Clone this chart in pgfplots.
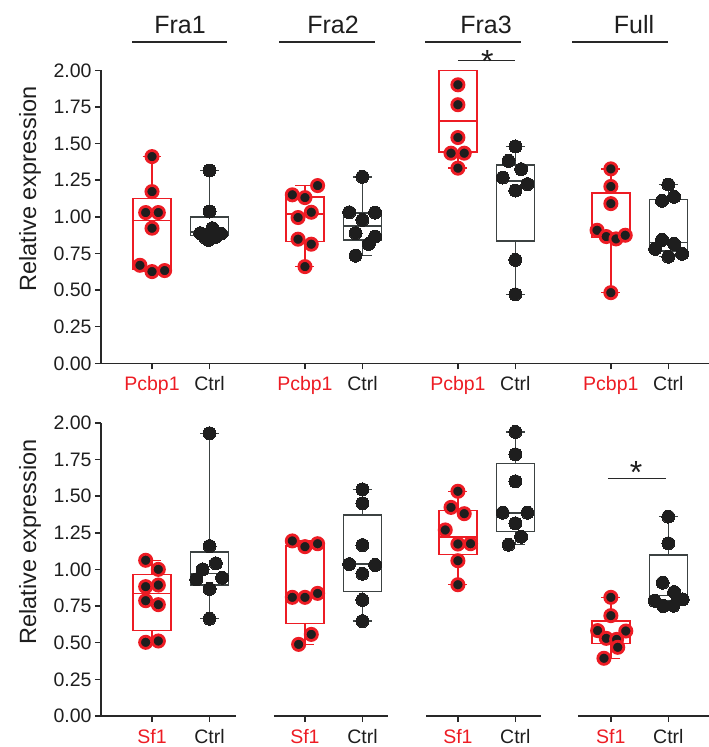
\documentclass[border=0pt]{standalone}
\usepackage{fontspec}
\setmainfont{Liberation Sans}
\usepackage{pgfplots}
\pgfplotsset{compat=1.18}
\definecolor{myred}{RGB}{237,28,36}
\definecolor{dotblack}{RGB}{30,30,30}
\definecolor{boxgray}{RGB}{60,66,66}
\definecolor{axgray}{RGB}{40,40,40}

\pgfplotsset{
  panel/.style={
    scale only axis, width=608pt, height=293pt,
    xmin=-0.887, xmax=9.687, ymin=0, ymax=2,
    axis lines*=left, clip=false,
    axis line style={line width=1.5pt, draw=axgray, -},
    xtick={0,1,2.66,3.66,5.32,6.32,7.98,8.98},
    ytick={0,0.25,0.5,0.75,1,1.25,1.5,1.75,2},
    tick style={line width=1.5pt, draw=axgray},
    major tick length=6pt, tick align=outside,
    xtick pos=bottom, ytick pos=left,
    yticklabel style={/pgf/number format/fixed, /pgf/number format/fixed zerofill, /pgf/number format/precision=2, /pgf/number format/assume math mode=true},
    ticklabel style={font=\fontsize{19.5}{20}\selectfont, text=dotblack},
    xticklabel style={yshift=-4pt},
  },
  redbox/.style={color=myred, line width=1.5pt, solid, mark=none},
  graybox/.style={color=boxgray, line width=1.5pt, solid, mark=none},
  reddots/.style={only marks, mark=*, mark size=6.1pt, mark options={fill=dotblack, draw=myred, line width=2.8pt}},
  blackdots/.style={only marks, mark=*, mark size=6.5pt, mark options={fill=dotblack, draw=dotblack, line width=0pt}},
}
% #1 style, #2 position, #3 lower whisker, #4 lower quartile, #5 median, #6 upper quartile, #7 upper whisker
\newcommand{\bx}[7]{%
  \pgfmathsetmacro{\bxl}{#2-0.33}\pgfmathsetmacro{\bxr}{#2+0.33}%
  \pgfmathsetmacro{\bcl}{#2-0.165}\pgfmathsetmacro{\bcr}{#2+0.165}%
  \edef\bxtmp{%
    \noexpand\addplot[#1, line join=miter] coordinates {(\bxl,#4) (\bxr,#4) (\bxr,#6) (\bxl,#6)} -- cycle;
    \noexpand\addplot[#1] coordinates {(\bxl,#5) (\bxr,#5)};
    \noexpand\addplot[#1] coordinates {(#2,#6) (#2,#7)};
    \noexpand\addplot[#1] coordinates {(#2,#4) (#2,#3)};
    \noexpand\addplot[#1] coordinates {(\bcl,#7) (\bcr,#7)};
    \noexpand\addplot[#1] coordinates {(\bcl,#3) (\bcr,#3)};
  }%
  \bxtmp}

\begin{document}
\begin{tikzpicture}
\useasboundingbox (0,0) rectangle (709pt,747pt);

% ---------------- top panel ----------------
\begin{axis}[panel, at={(101pt,383.7pt)}, anchor=south west,
  xticklabels={\textcolor{myred}{Pcbp1},Ctrl,\textcolor{myred}{Pcbp1},Ctrl,\textcolor{myred}{Pcbp1},Ctrl,\textcolor{myred}{Pcbp1},Ctrl}]
\bx{redbox}{0}{0.626}{0.64}{0.974}{1.125}{1.411}
\bx{graybox}{1}{0.842}{0.872}{0.895}{0.997}{1.316}
\bx{redbox}{2.66}{0.660}{0.831}{1.018}{1.136}{1.213}
\bx{graybox}{3.66}{0.735}{0.840}{0.936}{1.025}{1.273}
\bx{redbox}{5.32}{1.332}{1.441}{1.653}{2.0}{2.0}
\bx{graybox}{6.32}{0.471}{0.835}{1.245}{1.355}{1.480}
\bx{redbox}{7.98}{0.482}{0.86}{0.89}{1.161}{1.327}
\bx{graybox}{8.98}{0.728}{0.765}{0.826}{1.118}{1.220}

\addplot[reddots] coordinates {(0,1.411) (0,1.172) (-0.11,1.029) (0.11,1.029) (0,0.922) (-0.21,0.669) (0,0.626) (0.22,0.633)};
\addplot[blackdots] coordinates {(1,1.316) (1,1.036) (1.05,0.922) (0.84,0.888) (1.2,0.885) (0.92,0.86) (1.1,0.862) (0.98,0.842)};
\addplot[reddots] coordinates {(2.88,1.213) (2.44,1.150) (2.66,1.131) (2.54,0.995) (2.77,1.031) (2.54,0.847) (2.77,0.813) (2.66,0.660)};
\addplot[blackdots] coordinates {(3.66,1.273) (3.43,1.031) (3.88,1.029) (3.66,0.979) (3.54,0.888) (3.88,0.865) (3.77,0.815) (3.54,0.735)};
\addplot[reddots] coordinates {(5.32,1.901) (5.32,1.765) (5.32,1.541) (5.2,1.434) (5.43,1.434) (5.32,1.332)};
\addplot[blackdots] coordinates {(6.32,1.480) (6.2,1.382) (6.42,1.325) (6.1,1.268) (6.53,1.223) (6.32,1.179) (6.32,0.706) (6.32,0.471)};
\addplot[reddots] coordinates {(7.98,1.327) (7.98,1.207) (7.98,1.090) (7.74,0.908) (7.9,0.865) (8.07,0.849) (8.23,0.874) (7.98,0.482)};
\addplot[blackdots] coordinates {(8.98,1.220) (9.08,1.136) (8.87,1.109) (8.87,0.842) (9.08,0.815) (8.75,0.781) (9.22,0.747) (8.98,0.728)};

\draw[line width=1.3pt, axgray] (axis cs:5.32,2.065) -- (axis cs:6.32,2.065);
\node[font=\fontsize{32}{32}\selectfont, text=dotblack, anchor=base, inner sep=0pt] at (axis cs:5.83,1.985) {*};
\end{axis}

% ---------------- bottom panel ----------------
\begin{axis}[panel, at={(101pt,31pt)}, anchor=south west,
  x axis line style={draw=none},
  xticklabels={\textcolor{myred}{Sf1},Ctrl,\textcolor{myred}{Sf1},Ctrl,\textcolor{myred}{Sf1},Ctrl,\textcolor{myred}{Sf1},Ctrl}]
\bx{redbox}{0}{0.503}{0.583}{0.835}{0.965}{1.063}
\bx{graybox}{1}{0.664}{0.894}{0.971}{1.119}{1.930}
\bx{redbox}{2.66}{0.489}{0.630}{0.82}{1.160}{1.195}
\bx{graybox}{3.66}{0.648}{0.849}{1.037}{1.372}{1.547}
\bx{redbox}{5.32}{0.896}{1.101}{1.222}{1.402}{1.534}
\bx{graybox}{6.32}{1.169}{1.261}{1.386}{1.725}{1.939}
\bx{redbox}{7.98}{0.394}{0.496}{0.555}{0.648}{0.810}
\bx{graybox}{8.98}{0.751}{0.79}{0.822}{1.099}{1.361}

\addplot[reddots] coordinates {(-0.11,1.063) (0.11,1.001) (-0.11,0.883) (0.11,0.894) (-0.11,0.787) (0.11,0.760) (-0.11,0.503) (0.11,0.512)};
\addplot[blackdots] coordinates {(1,1.930) (1,1.160) (1.11,1.042) (0.88,1.001) (0.77,0.933) (1.22,0.944) (1,0.867) (1,0.664)};
\addplot[reddots] coordinates {(2.44,1.195) (2.66,1.156) (2.88,1.176) (2.44,0.810) (2.66,0.810) (2.88,0.837) (2.77,0.557) (2.55,0.489)};
\addplot[blackdots] coordinates {(3.66,1.547) (3.66,1.452) (3.66,1.167) (3.43,1.037) (3.88,1.031) (3.66,0.971) (3.66,0.792) (3.66,0.648)};
\addplot[reddots] coordinates {(5.32,1.534) (5.2,1.424) (5.43,1.381) (5.1,1.270) (5.32,1.174) (5.54,1.176) (5.32,1.060) (5.32,0.896)};
\addplot[blackdots] coordinates {(6.32,1.939) (6.32,1.786) (6.32,1.602) (6.1,1.388) (6.53,1.388) (6.32,1.315) (6.42,1.224) (6.2,1.169)};
\addplot[reddots] coordinates {(7.98,0.810) (7.98,0.685) (7.75,0.583) (8.24,0.580) (7.9,0.530) (8.08,0.523) (8.1,0.469) (7.86,0.394)};
\addplot[blackdots] coordinates {(8.98,1.361) (8.98,1.179) (8.88,0.910) (9.08,0.846) (8.74,0.787) (9.23,0.796) (8.89,0.751) (9.07,0.753)};

% broken x axis
\draw[line width=1.5pt, axgray] (axis cs:-0.9,0) -- (axis cs:1.46,0);
\draw[line width=1.5pt, axgray] (axis cs:2.12,0) -- (axis cs:4.10,0);
\draw[line width=1.5pt, axgray] (axis cs:4.77,0) -- (axis cs:6.77,0);
\draw[line width=1.5pt, axgray] (axis cs:7.41,0) -- (axis cs:9.69,0);

\draw[line width=1.3pt, axgray] (axis cs:7.93,1.623) -- (axis cs:8.94,1.623);
\node[font=\fontsize{32}{32}\selectfont, text=dotblack, anchor=base, inner sep=0pt] at (axis cs:8.42,1.59) {*};
\end{axis}

% y labels
\node[rotate=90, font=\fontsize{23.5}{24}\selectfont, text=dotblack] at (30pt,558pt) {Relative expression};
\node[rotate=90, font=\fontsize{23.5}{24}\selectfont, text=dotblack] at (30pt,205pt) {Relative expression};

% group titles
\foreach \c/\t in {180/Fra1, 333/Fra2, 486/Fra3, 634/Full}{
  \node[font=\fontsize{25}{25}\selectfont, text=dotblack] at (\c pt,722pt) {\t};
}
\draw[line width=1.3pt, axgray] (132pt,705pt) -- (227pt,705pt);
\draw[line width=1.3pt, axgray] (279pt,705pt) -- (375pt,705pt);
\draw[line width=1.3pt, axgray] (425pt,705pt) -- (521pt,705pt);
\draw[line width=1.3pt, axgray] (572pt,705pt) -- (668pt,705pt);
\end{tikzpicture}
\end{document}
